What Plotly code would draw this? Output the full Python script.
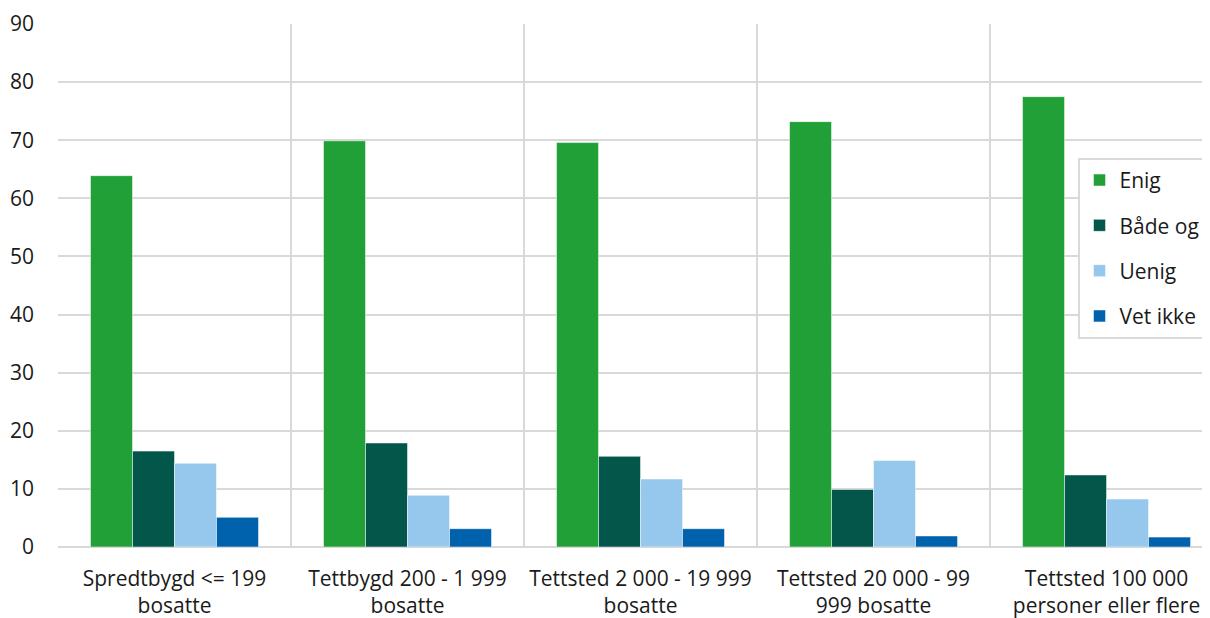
import plotly.graph_objects as go

categories = ["Spredtbygd <= 199<br>bosatte", "Tettbygd 200 - 1 999<br>bosatte",
              "Tettsted 2 000 - 19 999<br>bosatte", "Tettsted 20 000 - 99<br>999 bosatte",
              "Tettsted 100 000<br>personer eller flere"]
series_names = ["Enig", "Både og", "Uenig", "Vet ikke"]
enig = [63.9, 69.9, 69.6, 73.2, 77.5]
bade_og = [16.5, 17.9, 15.6, 9.9, 12.4]
uenig = [14.4, 8.9, 11.7, 14.9, 8.25]
vet_ikke = [5.1, 3.15, 3.15, 1.9, 1.7]
colors = ["#21a038", "#02574a", "#96c7ec", "#0062ad"]

fig = go.Figure()
for name, vals, col in zip(series_names, [enig, bade_og, uenig, vet_ikke], colors):
    fig.add_trace(go.Bar(x=categories, y=vals, name=name, legendgroup=name,
                         marker=dict(color=col, line=dict(color="white", width=0.5))))

font = dict(family="Open Sans", size=21, color="#1a1a1a")
fig.update_layout(
    width=1210, height=610,
    margin=dict(l=50, r=8, t=16, b=71),
    paper_bgcolor="white", plot_bgcolor="white",
    font=font,
    barmode="group", bargap=0.279, bargroupgap=0,
    legend=dict(x=0.885, y=0.744, xanchor="left", yanchor="top",
                bgcolor="white", bordercolor="#d9d9d9", borderwidth=2,
                tracegroupgap=15, font=font, entrywidth=100),
    showlegend=True,
)
fig.update_xaxes(range=[-0.5, 4.444], tickson="boundaries", showgrid=True,
                 gridcolor="#d9d9d9", gridwidth=2, ticks="", showline=False,
                 ticklabelstandoff=17, zeroline=False, automargin=False)
fig.update_yaxes(range=[0, 90], dtick=10, showgrid=True, gridcolor="#d9d9d9",
                 gridwidth=2, zeroline=True, zerolinecolor="#d9d9d9", zerolinewidth=2,
                 ticks="", ticklabelstandoff=23, automargin=False)
fig.write_html("out.html")
